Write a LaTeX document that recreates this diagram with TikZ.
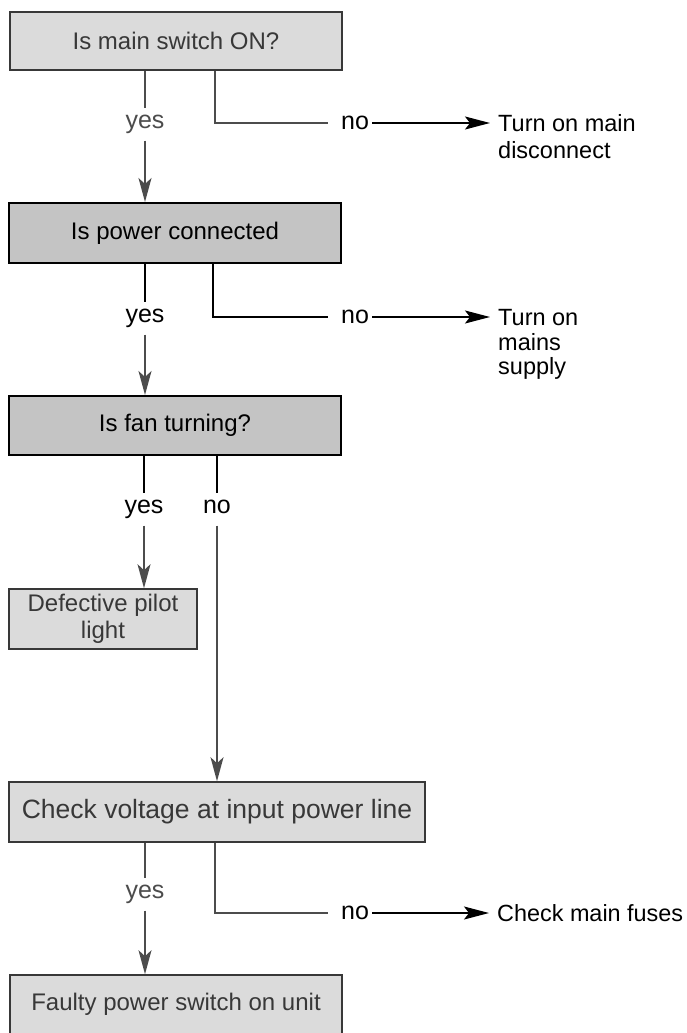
\documentclass[tikz,border=0pt]{standalone}
\usepackage{fontspec}
\setmainfont{Liberation Sans}
\usetikzlibrary{arrows.meta}
\definecolor{lightfill}{gray}{0.86}
\definecolor{darkfill}{gray}{0.77}
\definecolor{greyink}{gray}{0.30}
\definecolor{boxink}{gray}{0.22}
\begin{document}
\begin{tikzpicture}[x=1pt,y=-1pt,
  lightbox/.style={draw=boxink, fill=lightfill, line width=1.6pt, inner sep=0pt,
    font=\fontsize{24}{27}\selectfont, text=boxink},
  darkbox/.style={draw=black, fill=darkfill, line width=2pt, inner sep=0pt,
    font=\fontsize{24}{27}\selectfont, text=black},
  lbl/.style={font=\fontsize{25}{27}\selectfont, inner xsep=3pt, inner ysep=7pt,
    text height=13pt, text depth=5.5pt, anchor=base},
  nolbl/.style={font=\fontsize{25}{27}\selectfont, inner xsep=3pt, inner ysep=7pt,
    text height=13pt, text depth=0pt, anchor=base},
  target/.style={align=left, inner sep=0pt, anchor=base west},
  greyline/.style={draw=greyink, line width=1.5pt},
  thickline/.style={draw=black, line width=2.6pt},
  blackline/.style={draw=black, line width=1.8pt},
  greyarrow/.style={draw=greyink, line width=1.5pt, -{Stealth[length=24pt,width=13pt,inset=6pt]}},
  blackarrow/.style={draw=black, line width=1.5pt, shorten >=8pt, -{Stealth[length=25pt,width=13pt,inset=5pt]}}
]
\fill[white] (0,0) rectangle (686,1033);
\useasboundingbox (0,0) rectangle (686,1033);

% boxes
\node[lightbox, minimum width=332pt, minimum height=58pt] (b1) at (176,41) {Is main switch ON?};
\node[darkbox, minimum width=332pt, minimum height=60pt] (b2) at (175,233) {Is power connected};
\node[darkbox, minimum width=332pt, minimum height=59pt] (b3) at (175,425.5) {Is fan turning?};
\node[lightbox, minimum width=188pt, minimum height=60pt, align=center] (b4) at (103,619) {Defective pilot\\light};
\node[lightbox, minimum width=416pt, minimum height=60pt, font=\fontsize{26.5}{28}\selectfont] (b5) at (217,812) {Check voltage at input power line};
\node[lightbox, minimum width=332pt, minimum height=59pt] (b6) at (176,1004.5) {Faulty power switch on unit};

% labels
\node[lbl, text=greyink] (y1) at (145,128) {yes};
\node[nolbl] (n1) at (355,129.5) {no};
\node[target, font=\fontsize{23.5}{27}\selectfont] (t1) at (498,158.5) {Turn on main\\disconnect};

\node[lbl] (y2) at (145,322) {yes};
\node[nolbl] (n2) at (355,323.5) {no};
\node[target, font=\fontsize{23.5}{24.5}\selectfont] (t2) at (498,374.5) {Turn on\\mains\\supply};

\node[lbl] (y3) at (144,513) {yes};
\node[lbl] (n3) at (217,513) {no};

\node[lbl, text=greyink] (y5) at (145,898) {yes};
\node[nolbl] (n5) at (355,919.5) {no};
\node[target, font=\fontsize{23.4}{27}\selectfont] (t5) at (497,921.5) {Check main fuses};

\coordinate (nx1) at (215,123);
\coordinate (nx2) at (213,317);
\coordinate (nx5) at (215,913);

% connectors: box 1
\draw[greyline] (b1.south -| y1) -- (y1);
\draw[greyarrow] (y1) -- (b2.north -| y1);
\draw[greyline, shorten >=10pt] (b1.south -| nx1) |- (n1.west);
\draw[blackarrow] (n1.east) -- (t1.west |- n1.east);

% box 2
\draw[thickline] (b2.south -| y2) -- (y2);
\draw[greyarrow] (y2) -- (b3.north -| y2);
\draw[blackline, shorten >=10pt] (b2.south -| nx2) |- (n2.west);
\draw[blackarrow] (n2.east) -- (t2.west |- n2.east);

% box 3
\draw[thickline] (b3.south -| y3) -- (y3);
\draw[greyarrow] (y3) -- (b4.north -| y3);
\draw[thickline] (b3.south -| n3) -- (n3);
\draw[greyarrow] (n3) -- (b5.north -| n3);

% box 5
\draw[greyline] (b5.south -| y5) -- (y5);
\draw[greyarrow] (y5) -- (b6.north -| y5);
\draw[greyline, shorten >=10pt] (b5.south -| nx5) |- (n5.west);
\draw[blackarrow] (n5.east) -- (t5.west |- n5.east);
\end{tikzpicture}
\end{document}
